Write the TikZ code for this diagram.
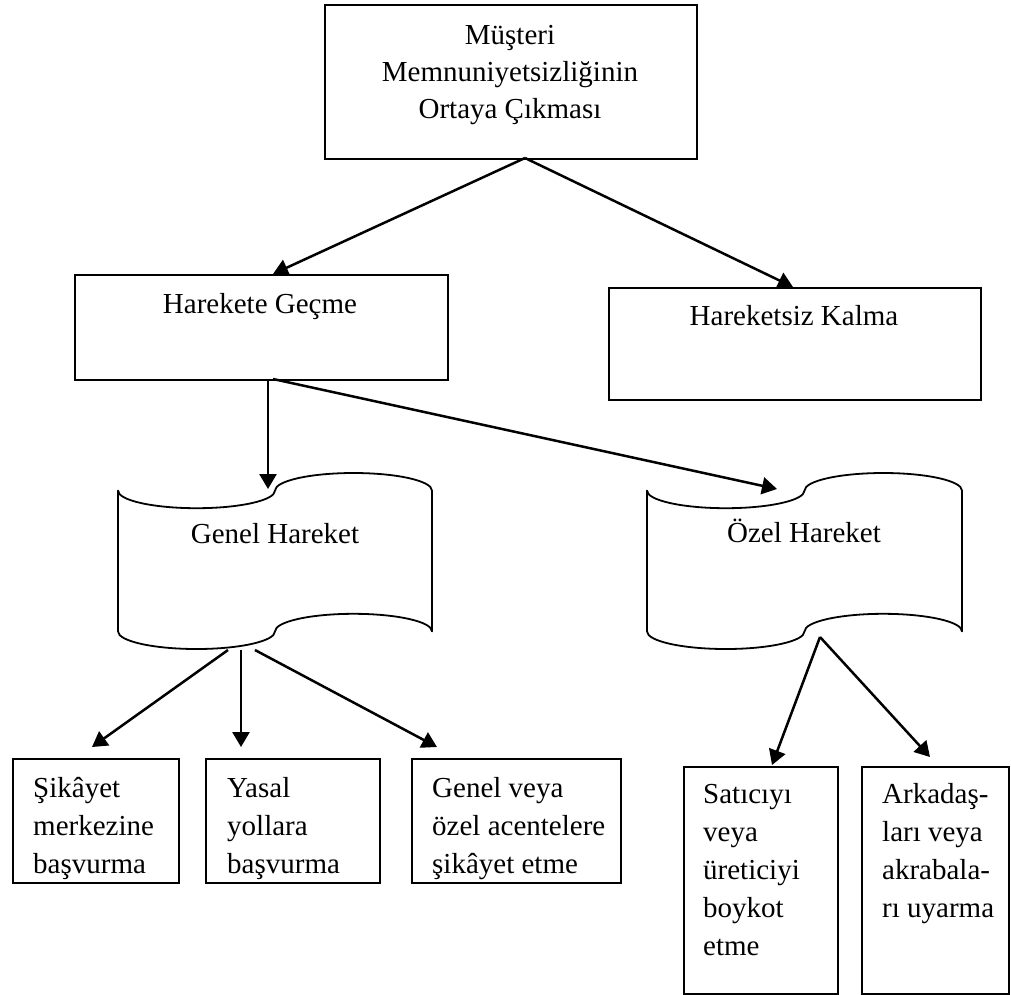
\documentclass[tikz,border=0pt]{standalone}
\usepackage{fontspec}
\setmainfont{Liberation Serif}
\usetikzlibrary{arrows.meta,calc}

% multi-line text whose reference point is the first baseline
\newcommand\txtlines[2]{\begin{tabular}[t]{@{}#1@{}}#2\end{tabular}}

% punched-tape outline: #1 left x, #2 top y, #3 width, #4 height
\newcommand\punchtape[4]{%
  \pgfmathsetmacro\ta{#3/4}%
  \pgfmathsetmacro\tr{#4/10}%
  \pgfmathsetmacro\tk{0.5523}%
  \draw[tapeline] (#1, #2+\tr)
    .. controls (#1, #2+\tr+\tk*\tr) and (#1+\ta-\tk*\ta, #2+2*\tr) .. (#1+\ta, #2+2*\tr)
    .. controls (#1+\ta+\tk*\ta, #2+2*\tr) and (#1+2*\ta, #2+\tr+\tk*\tr) .. (#1+2*\ta, #2+\tr)
    .. controls (#1+2*\ta, #2+\tr-\tk*\tr) and (#1+3*\ta-\tk*\ta, #2) .. (#1+3*\ta, #2)
    .. controls (#1+3*\ta+\tk*\ta, #2) and (#1+4*\ta, #2+\tr-\tk*\tr) .. (#1+4*\ta, #2+\tr)
    -- (#1+4*\ta, #2+#4-\tr)
    .. controls (#1+4*\ta, #2+#4-\tr-\tk*\tr) and (#1+3*\ta+\tk*\ta, #2+#4-2*\tr) .. (#1+3*\ta, #2+#4-2*\tr)
    .. controls (#1+3*\ta-\tk*\ta, #2+#4-2*\tr) and (#1+2*\ta, #2+#4-\tr-\tk*\tr) .. (#1+2*\ta, #2+#4-\tr)
    .. controls (#1+2*\ta, #2+#4-\tr+\tk*\tr) and (#1+\ta+\tk*\ta, #2+#4) .. (#1+\ta, #2+#4)
    .. controls (#1+\ta-\tk*\ta, #2+#4) and (#1, #2+#4-\tr+\tk*\tr) .. (#1, #2+#4-\tr)
    -- cycle;}

\begin{document}
\begin{tikzpicture}[x=1pt, y=-1pt,
  box/.style={draw, line width=1.8pt, inner sep=0pt, anchor=north west},
  area/.style={inner sep=0pt, anchor=north west},
  tapeline/.style={draw, line width=1.8pt, line join=round},
  conn/.style={line width=2.5pt, -{Triangle[length=15pt,width=17pt]}},
  lbl/.style={inner sep=0pt, anchor=base, font=\fontsize{29}{37}\selectfont},
  lblb/.style={inner sep=0pt, anchor=base west, font=\fontsize{29}{38}\selectfont},
]
\useasboundingbox (0,0) rectangle (1011,994);

% top level
\node[box, minimum width=372, minimum height=154] (top) at (324,4) {};
\node[lbl] (toptext) at (510,44) {\txtlines{c}{Müşteri\\Memnuniyetsizliğinin\\Ortaya Çıkması}};

% second level
\node[box, minimum width=373, minimum height=105] (act) at (74,274) {};
\node[lbl] (acttext) at (260,313) {Harekete Geçme};
\node[box, minimum width=372, minimum height=112] (idle) at (608,287) {};
\node[lbl] (idletext) at (794,325) {Hareketsiz Kalma};

% third level: tapes
\node[area, minimum width=314, minimum height=176] (gen) at (118,473) {};
\punchtape{118}{473}{314}{176}
\node[lbl] (gentext) at (275,543) {Genel Hareket};
\node[area, minimum width=315, minimum height=176] (ozel) at (647,473) {};
\punchtape{647}{473}{315}{176}
\node[lbl] (ozeltext) at (804,542) {Özel Hareket};

% fourth level
\node[box, minimum width=166, minimum height=124] (b1) at (12,758) {};
\node[lblb] (b1text) at (33,797) {\txtlines{l}{Şikâyet\\merkezine\\başvurma}};
\node[box, minimum width=174, minimum height=124] (b2) at (205,758) {};
\node[lblb] (b2text) at (227,797) {\txtlines{l}{Yasal\\yollara\\başvurma}};
\node[box, minimum width=209, minimum height=124] (b3) at (411,758) {};
\node[lblb] (b3text) at (432,797) {\txtlines{l}{Genel veya\\özel acentelere\\şikâyet etme}};
\node[box, minimum width=154, minimum height=227] (b4) at (683,766) {};
\node[lblb] (b4text) at (703,803) {\txtlines{l}{Satıcıyı\\veya\\üreticiyi\\boykot\\etme}};
\node[box, minimum width=147, minimum height=227] (b5) at (861,766) {};
\node[lblb] (b5text) at (882,803) {\txtlines{l}{Arkadaş-\\ları veya\\akrabala-\\rı uyarma}};

% connector ends
\coordinate (topout) at (525,158);
\coordinate (actin) at (273,274);
\coordinate (idlein) at (793,287);
\coordinate (actout1) at (268,379);
\coordinate (actout2) at (273,379);
\coordinate (genin) at (268,489);
\coordinate (ozelin) at (777,489);
\coordinate (genout1) at (228,650);
\coordinate (genout2) at (241,650);
\coordinate (genout3) at (255,650);
\coordinate (b1in) at (92,747);
\coordinate (b2in) at (241,747);
\coordinate (b3in) at (437,747);
\coordinate (ozelout) at (820,637);
\coordinate (b4in) at (772,765);
\coordinate (b5in) at (930,757);

\draw[conn] (topout) -- (actin);
\draw[conn] (topout) -- (idlein);
\draw[conn] (actout1) -- (genin);
\draw[conn] (actout2) -- (ozelin);
\draw[conn] (genout1) -- (b1in);
\draw[conn] (genout2) -- (b2in);
\draw[conn] (genout3) -- (b3in);
\draw[conn] (ozelout) -- (b4in);
\draw[conn] (ozelout) -- (b5in);
\end{tikzpicture}
\end{document}
